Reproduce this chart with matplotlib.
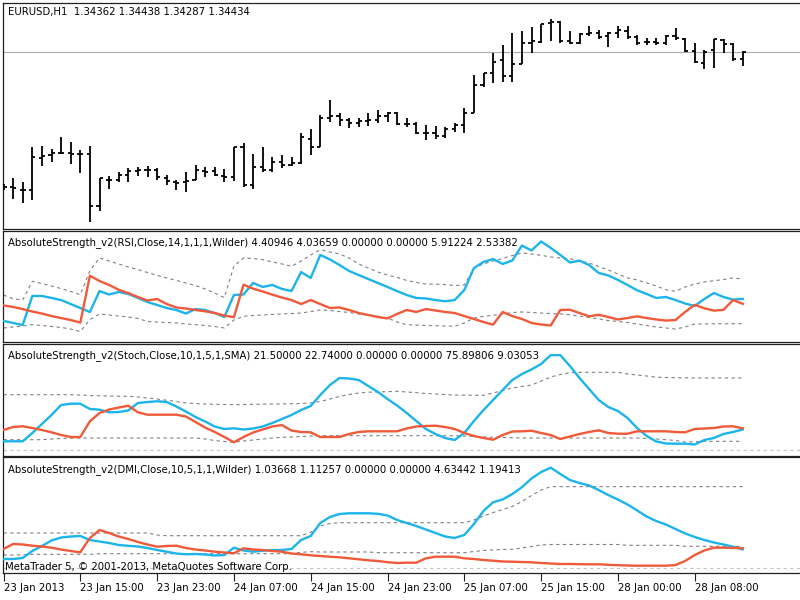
import matplotlib
matplotlib.use('Agg')
import matplotlib.pyplot as plt
import numpy as np

plt.rcParams['font.family'] = ['DejaVu Sans']

# ---------------- data ----------------
SYMBOL = "EURUSD,H1"
TIME_LABELS = ["23 Jan 2013", "23 Jan 15:00", "23 Jan 23:00", "24 Jan 07:00", "24 Jan 15:00",
               "24 Jan 23:00", "25 Jan 07:00", "25 Jan 15:00", "28 Jan 00:00", "28 Jan 08:00"]
TIME_LABEL_BARS = [0, 8, 16, 24, 32, 40, 48, 56, 64, 72]

OPEN = [1.3308, 1.3308, 1.3305, 1.3305, 1.3337, 1.3340, 1.3342, 1.3342, 1.3341, 1.3341,
        1.3289, 1.3315, 1.3315, 1.3320, 1.3324, 1.3325, 1.3325, 1.3317, 1.3313, 1.3313,
        1.3315, 1.3324, 1.3324, 1.3319, 1.3318, 1.3348, 1.3310, 1.3328, 1.3325, 1.3333,
        1.3330, 1.3332, 1.3356, 1.3348, 1.3377, 1.3379, 1.3375, 1.3372, 1.3374, 1.3375,
        1.3379, 1.3382, 1.3371, 1.3371, 1.3362, 1.3362, 1.3359, 1.3366, 1.3370, 1.3382,
        1.3410, 1.3422, 1.3435, 1.3419, 1.3431, 1.3452, 1.3453, 1.3472, 1.3473, 1.3454,
        1.3452, 1.3461, 1.3462, 1.3459, 1.3462, 1.3464, 1.3458, 1.3453, 1.3453, 1.3452,
        1.3459, 1.3456, 1.3444, 1.3432, 1.3445, 1.3455, 1.3451, 1.34362]
HIGH = [1.3311, 1.3317, 1.3313, 1.3348, 1.3349, 1.3346, 1.3358, 1.3353, 1.3345, 1.3349,
        1.3317, 1.3319, 1.3323, 1.3327, 1.3328, 1.3329, 1.3327, 1.3320, 1.3315, 1.3323,
        1.3330, 1.3328, 1.3328, 1.3326, 1.3348, 1.3352, 1.3341, 1.3348, 1.3338, 1.3340,
        1.3338, 1.3362, 1.3366, 1.3380, 1.3395, 1.3382, 1.3377, 1.3377, 1.3382, 1.3385,
        1.3383, 1.3383, 1.3377, 1.3373, 1.3370, 1.3369, 1.3368, 1.3372, 1.3387, 1.3420,
        1.3422, 1.3442, 1.3450, 1.3462, 1.3464, 1.3468, 1.3471, 1.3476, 1.3474, 1.3464,
        1.3462, 1.3469, 1.3465, 1.3463, 1.3469, 1.3469, 1.3460, 1.3457, 1.3457, 1.3460,
        1.3467, 1.3457, 1.3452, 1.3445, 1.3456, 1.3456, 1.3452, 1.34438]
LOW = [1.3305, 1.3296, 1.3292, 1.3295, 1.3329, 1.3333, 1.3341, 1.3331, 1.3322, 1.3273,
       1.3284, 1.3306, 1.3313, 1.3313, 1.3319, 1.3318, 1.3315, 1.3310, 1.3305, 1.3303,
       1.3315, 1.3318, 1.3319, 1.3313, 1.3314, 1.3308, 1.3306, 1.3323, 1.3323, 1.3327,
       1.3329, 1.3331, 1.3340, 1.3348, 1.3373, 1.3369, 1.3367, 1.3368, 1.3369, 1.3372,
       1.3373, 1.3370, 1.3368, 1.3361, 1.3355, 1.3356, 1.3357, 1.3363, 1.3362, 1.3382,
       1.3408, 1.3412, 1.3413, 1.3413, 1.3431, 1.3442, 1.3452, 1.3454, 1.3452, 1.3451,
       1.3451, 1.3459, 1.3456, 1.3448, 1.3457, 1.3456, 1.3450, 1.3450, 1.3450, 1.3450,
       1.3455, 1.3443, 1.3432, 1.3426, 1.3427, 1.3442, 1.3434, 1.34287]
CLOSE = [1.3308, 1.3307, 1.3305, 1.3338, 1.3339, 1.3342, 1.3342, 1.3341, 1.3341, 1.3289,
         1.3317, 1.3315, 1.3320, 1.3324, 1.3325, 1.3325, 1.3318, 1.3314, 1.3312, 1.3314,
         1.3325, 1.3323, 1.3320, 1.3318, 1.3348, 1.3310, 1.3328, 1.3325, 1.3333, 1.3330,
         1.3332, 1.3358, 1.3348, 1.3377, 1.3379, 1.3375, 1.3372, 1.3374, 1.3375, 1.3379,
         1.3382, 1.3371, 1.3371, 1.3362, 1.3362, 1.3359, 1.3366, 1.3370, 1.3382, 1.3410,
         1.3422, 1.3433, 1.3419, 1.3431, 1.3452, 1.3454, 1.3471, 1.3473, 1.3454, 1.3452,
         1.3461, 1.3462, 1.3458, 1.3462, 1.3465, 1.3458, 1.3452, 1.3453, 1.3452, 1.3459,
         1.3457, 1.3444, 1.3433, 1.3443, 1.3456, 1.3451, 1.3436, 1.34434]

# AbsoluteStrength_v2 (RSI)
RSI_BULLS = [2.74, 2.59, 2.43, 4.63, 4.63, 4.48, 4.32, 4.02, 3.72, 3.42,
             5.00, 4.74, 4.93, 4.78, 4.48, 4.17, 3.95, 3.72, 3.57, 3.30,
             3.64, 3.57, 3.34, 3.04, 4.70, 4.74, 5.61, 5.31, 5.46, 5.16,
             5.00, 6.44, 5.99, 7.73, 7.39, 6.97, 6.52, 6.21, 5.91, 5.61,
             5.31, 5.00, 4.70, 4.48, 4.44, 4.32, 4.23, 4.32, 5.08, 6.74,
             7.20, 7.42, 7.05, 7.31, 8.44, 8.07, 8.75, 8.26, 7.73, 7.16,
             7.30, 6.97, 6.37, 6.18, 5.84, 5.46, 5.06, 4.78, 4.48, 4.55,
             4.32, 4.06, 3.87, 4.40, 4.85, 4.55, 4.35, 4.40946]
RSI_BEARS = [3.91, 3.80, 3.64, 3.45, 3.30, 3.11, 2.96, 2.81, 2.62, 6.16,
             5.76, 5.46, 5.10, 4.85, 4.55, 4.29, 4.40, 4.02, 3.76, 3.68,
             3.57, 3.47, 3.34, 3.15, 3.02, 5.48, 5.18, 4.97, 4.73, 4.51,
             4.32, 4.02, 4.32, 4.02, 3.72, 3.76, 3.57, 3.34, 3.19, 3.04,
             2.93, 3.27, 3.57, 3.42, 3.64, 3.53, 3.42, 3.34, 3.11, 2.89,
             2.66, 2.46, 3.42, 3.11, 2.89, 2.59, 2.47, 2.40, 3.57, 3.59,
             3.34, 3.09, 3.21, 3.04, 2.85, 2.96, 3.09, 2.96, 2.85, 2.77,
             2.81, 3.42, 3.96, 3.70, 3.52, 3.58, 4.32, 4.03659]
RSI_UPPER = [4.70, 4.42, 4.32, 5.74, 5.57, 5.38, 5.19, 4.97, 4.73, 6.54,
             7.50, 7.27, 7.05, 6.82, 6.63, 6.40, 6.18, 5.99, 5.80, 5.61,
             5.42, 5.16, 4.85, 4.51, 6.89, 7.50, 7.46, 7.37, 7.20, 7.05,
             6.87, 7.27, 7.73, 8.13, 7.95, 7.80, 7.50, 7.05, 6.74, 6.44,
             6.21, 6.03, 5.80, 5.65, 5.53, 5.52, 5.49, 5.42, 5.46, 6.74,
             7.05, 7.27, 7.46, 7.69, 7.88, 7.80, 7.70, 7.58, 7.50, 7.45,
             7.27, 7.12, 6.86, 6.59, 6.29, 5.99, 5.84, 5.61, 5.38, 5.10,
             4.98, 5.31, 5.53, 5.69, 5.78, 5.87, 5.99, 5.91224]
RSI_LOWER = [2.21, 2.28, 2.36, 2.46, 2.40, 2.32, 2.25, 2.13, 1.94, 2.84,
             3.27, 3.19, 3.11, 3.04, 2.93, 2.70, 2.66, 2.62, 2.59, 2.51,
             2.46, 2.40, 2.32, 2.21, 2.81, 3.09, 3.15, 3.19, 3.23, 3.27,
             3.30, 3.34, 3.45, 3.57, 3.53, 3.45, 3.38, 3.27, 3.19, 3.09,
             2.96, 2.66, 2.46, 2.43, 2.40, 2.38, 2.36, 2.34, 2.59, 2.96,
             3.08, 3.17, 3.27, 3.38, 3.42, 3.38, 3.34, 3.30, 3.27, 3.21,
             3.11, 3.00, 2.89, 2.77, 2.71, 2.62, 2.51, 2.40, 2.28, 2.21,
             2.13, 2.28, 2.51, 2.51, 2.53, 2.53, 2.53, 2.53382]

# AbsoluteStrength_v2 (Stoch)
STO_BULLS = [9.03, 9.03, 9.03, 17.79, 27.30, 36.80, 47.36, 48.73, 48.73, 43.14,
             42.40, 39.65, 39.97, 41.55, 49.47, 50.53, 51.27, 50.53, 45.78, 40.50,
             34.69, 29.94, 24.66, 22.02, 22.76, 21.49, 22.55, 24.66, 28.35, 32.58,
             36.80, 42.08, 46.31, 57.92, 68.48, 75.87, 75.35, 73.76, 67.43, 61.09,
             53.70, 46.83, 38.91, 30.47, 22.02, 16.74, 12.51, 10.40, 17.79, 30.47,
             42.00, 52.64, 63.20, 73.76, 80.00, 84.90, 90.66, 100.0, 100.0, 88.55,
             75.87, 64.26, 52.64, 45.25, 41.03, 33.63, 23.07, 14.63, 8.82, 6.71,
             6.49, 6.49, 5.65, 10.40, 12.51, 16.74, 18.85, 21.50]
STO_BEARS = [20.96, 24.13, 24.87, 23.07, 20.96, 18.53, 15.68, 13.57, 13.57, 30.15,
             38.90, 42.60, 44.70, 46.60, 39.65, 37.12, 37.12, 37.12, 37.12, 35.20,
             29.40, 23.60, 18.90, 13.60, 7.97, 13.57, 18.30, 21.50, 24.66, 26.20,
             20.40, 18.85, 18.50, 13.57, 13.57, 13.57, 16.74, 18.85, 19.59, 19.59,
             19.59, 19.59, 22.55, 24.66, 25.19, 25.50, 24.13, 22.02, 17.79, 14.63,
             12.51, 10.72, 15.68, 19.38, 19.59, 20.22, 17.79, 15.68, 11.46, 14.10,
             16.74, 18.85, 20.64, 17.79, 17.05, 17.05, 19.59, 19.59, 19.59, 19.59,
             18.85, 18.53, 22.02, 22.55, 23.07, 24.66, 24.87, 22.74]
STO_UPPER = [58.24, 58.24, 58.24, 58.24, 58.24, 58.24, 58.24, 58.24, 57.92, 57.39,
             57.08, 56.87, 56.65, 56.55, 55.81, 54.75, 53.70, 52.32, 51.06, 49.47,
             48.95, 48.42, 48.10, 47.89, 47.68, 47.89, 48.10, 48.21, 48.42, 48.52,
             48.73, 48.95, 49.47, 51.06, 53.70, 56.34, 58.45, 60.03, 60.88, 61.09,
             61.51, 61.83, 61.09, 60.35, 59.51, 58.98, 58.34, 57.92, 57.71, 57.60,
             57.60, 60.03, 62.67, 65.31, 66.90, 68.48, 72.71, 76.93, 79.57, 81.47,
             81.89, 81.89, 81.89, 81.89, 81.89, 80.10, 79.04, 77.99, 76.72, 76.40,
             76.19, 76.08, 75.90, 75.90, 75.90, 75.90, 75.90, 75.89806]
STO_LOWER = [10.72, 10.72, 10.72, 10.72, 10.72, 11.46, 11.99, 12.30, 12.51, 12.51,
             12.51, 12.51, 12.51, 12.51, 12.51, 12.51, 12.51, 12.51, 12.51, 12.51,
             12.51, 11.46, 9.87, 8.82, 7.97, 9.35, 10.40, 11.46, 12.51, 13.25,
             13.57, 14.10, 14.63, 14.94, 14.94, 14.94, 14.94, 14.94, 14.94, 14.94,
             14.94, 14.94, 14.94, 14.94, 14.94, 14.94, 14.94, 14.94, 14.63, 14.10,
             13.57, 13.25, 13.04, 12.78, 12.51, 12.51, 12.51, 12.51, 12.51, 12.51,
             12.51, 12.51, 12.51, 12.51, 12.51, 12.51, 12.51, 11.99, 11.46, 10.72,
             9.87, 8.29, 8.50, 9.03, 9.03, 9.03, 9.03, 9.03053]

# AbsoluteStrength_v2 (DMI)
DMI_BULLS = [0.487, 0.487, 0.544, 0.945, 1.232, 1.547, 1.719, 1.776, 1.805, 1.576,
             1.490, 1.404, 1.289, 1.243, 1.203, 1.117, 1.003, 0.905, 0.802, 0.756,
             0.774, 0.745, 0.688, 0.716, 1.135, 0.974, 0.905, 0.963, 1.003, 1.003,
             1.060, 1.576, 1.805, 2.550, 2.894, 3.066, 3.106, 3.106, 3.106, 3.077,
             2.980, 2.722, 2.550, 2.378, 2.177, 1.977, 1.776, 1.690, 1.862, 2.490,
             3.240, 3.740, 3.900, 4.210, 4.600, 5.100, 5.470, 5.719, 5.360, 5.014,
             4.840, 4.699, 4.440, 4.150, 3.896, 3.610, 3.270, 2.920, 2.660, 2.464,
             2.206, 1.950, 1.748, 1.576, 1.433, 1.318, 1.192, 1.03668]
DMI_BEARS = [1.060, 1.347, 1.318, 1.249, 1.203, 1.135, 1.031, 0.945, 0.871, 1.690,
             2.149, 1.977, 1.776, 1.633, 1.461, 1.318, 1.192, 1.232, 1.249, 1.117,
             1.031, 0.974, 0.905, 0.860, 0.814, 1.100, 1.031, 1.003, 0.945, 0.905,
             0.802, 0.756, 0.699, 0.659, 0.619, 0.584, 0.527, 0.470, 0.413, 0.372,
             0.304, 0.258, 0.275, 0.275, 0.527, 0.619, 0.619, 0.619, 0.527, 0.487,
             0.430, 0.390, 0.344, 0.332, 0.315, 0.298, 0.258, 0.229, 0.201, 0.201,
             0.189, 0.183, 0.183, 0.155, 0.132, 0.115, 0.103, 0.103, 0.103, 0.103,
             0.143, 0.372, 0.716, 0.974, 1.135, 1.135, 1.117, 1.11257]
DMI_UPPER = [1.977, 1.977, 1.977, 1.977, 1.977, 1.977, 1.977, 1.977, 1.977, 1.977,
             1.977, 1.977, 1.977, 1.977, 1.977, 1.977, 1.862, 1.822, 1.822, 1.822,
             1.822, 1.822, 1.822, 1.822, 1.822, 1.822, 1.822, 1.822, 1.822, 1.822,
             1.822, 1.822, 2.017, 2.378, 2.520, 2.567, 2.567, 2.567, 2.567, 2.567,
             2.567, 2.567, 2.567, 2.567, 2.567, 2.567, 2.567, 2.567, 2.567, 2.722,
             2.951, 3.150, 3.320, 3.500, 3.780, 4.126, 4.440, 4.634, 4.634, 4.634,
             4.634, 4.634, 4.634, 4.634, 4.634, 4.634, 4.634, 4.634, 4.634, 4.634,
             4.634, 4.634, 4.634, 4.634, 4.634, 4.634, 4.634, 4.63442]
DMI_LOWER = [0.716, 0.716, 0.716, 0.756, 0.756, 0.756, 0.756, 0.756, 0.756, 0.756,
             0.791, 0.791, 0.791, 0.791, 0.791, 0.791, 0.791, 0.791, 0.791, 0.791,
             0.791, 0.791, 0.791, 0.791, 0.791, 0.791, 0.791, 0.791, 0.791, 0.791,
             0.791, 0.871, 0.905, 0.888, 0.888, 0.888, 0.888, 0.888, 0.888, 0.848,
             0.848, 0.848, 0.848, 0.848, 0.848, 0.848, 0.848, 0.848, 0.848, 0.917,
             0.974, 1.003, 1.031, 1.043, 1.117, 1.203, 1.289, 1.318, 1.318, 1.318,
             1.318, 1.318, 1.318, 1.318, 1.318, 1.272, 1.272, 1.272, 1.272, 1.272,
             1.272, 1.215, 1.215, 1.215, 1.215, 1.215, 1.215, 1.19413]

RSI_TITLE = "AbsoluteStrength_v2(RSI,Close,14,1,1,1,Wilder)"
STO_TITLE = "AbsoluteStrength_v2(Stoch,Close,10,1,5,1,SMA)"
DMI_TITLE = "AbsoluteStrength_v2(DMI,Close,10,5,1,1,Wilder)"
COPYRIGHT = "MetaTrader 5, \u00a9 2001-2013, MetaQuotes Software Corp."

# ---------------- layout / style ----------------
W, H = 800, 600
BLUE = '#1cb4ea'
RED = '#f05a3a'
DASH_GREY = '#808080'
LIGHT_GREY = '#c4c4c4'
FS = 7.3

fig = plt.figure(figsize=(W / 100, H / 100), dpi=100, facecolor='white')

X0_PX, STEP_PX = 3.5, 9.6
LEFT_PX = 3.0


def panel(top_px, bottom_px):
    ax = fig.add_axes([LEFT_PX / W, 1 - bottom_px / H, (W - LEFT_PX) / W, (bottom_px - top_px) / H])
    ax.set_xlim((LEFT_PX - X0_PX) / STEP_PX, (W - X0_PX) / STEP_PX)
    for side in ('left', 'top', 'bottom'):
        ax.spines[side].set_color('#202020')
        ax.spines[side].set_linewidth(0.9)
    ax.spines['right'].set_visible(False)
    ax.set_yticks([])
    ax.set_xticks([])
    ax.set_facecolor('white')
    return ax


def fmt(vals):
    return " ".join(f"{v:.5f}" for v in vals)


n = len(CLOSE)
x = np.arange(n)

# main price panel
ax0 = panel(2.7, 228.5)
ax0.set_ylim(1.3495 - 228.5 / 10000, 1.3495 - 2.7 / 10000)
ax0.axhline(CLOSE[-1], color='#ababab', lw=0.8, zorder=1)
ax0.vlines(x, LOW, HIGH, color='black', lw=1.3, zorder=3)
ax0.hlines(OPEN, x - 0.33, x, color='black', lw=1.3, zorder=3)
ax0.hlines(CLOSE, x, x + 0.33, color='black', lw=1.3, zorder=3)
fig.text(8 / W, 1 - 12.5 / H,
         f"{SYMBOL}  {fmt([OPEN[-1], HIGH[-1], LOW[-1], CLOSE[-1]])}",
         fontsize=FS, va='center', ha='left')


def indicator(top_px, bottom_px, ylim, bulls, bears, upper, lower, title, zero_line):
    ax = panel(top_px, bottom_px)
    ax.set_ylim(*ylim)
    if zero_line:
        ax.axhline(0, color=LIGHT_GREY, lw=0.8, ls=(0, (3, 3)), zorder=1)
    ax.plot(x, upper, color=DASH_GREY, lw=0.8, ls=(0, (3, 3)), zorder=2)
    ax.plot(x, lower, color=DASH_GREY, lw=0.8, ls=(0, (3, 3)), zorder=2)
    ax.plot(x, bulls, color=BLUE, lw=1.7, zorder=3, solid_joinstyle='round')
    ax.plot(x, bears, color=RED, lw=1.7, zorder=4, solid_joinstyle='round')
    ymid = (top_px + 12.5)
    fig.text(8 / W, 1 - ymid / H,
             f"{title} {fmt([bulls[-1], bears[-1], 0.0, 0.0, upper[-1], lower[-1]])}",
             fontsize=FS, va='center', ha='left')
    return ax


indicator(230.5, 341.5, ((357.2 - 341.5) * 0.0756, (357.2 - 230.5) * 0.0756),
          RSI_BULLS, RSI_BEARS, RSI_UPPER, RSI_LOWER, RSI_TITLE, False)
indicator(343.5, 455.7, ((449.85 - 455.7) * 1.056, (449.85 - 343.5) * 1.056),
          STO_BULLS, STO_BEARS, STO_UPPER, STO_LOWER, STO_TITLE, True)
ax3 = indicator(456.7, 573.3, ((567.5 - 573.3) * 0.0573, (567.5 - 456.7) * 0.0573),
                DMI_BULLS, DMI_BEARS, DMI_UPPER, DMI_LOWER, DMI_TITLE, True)

fig.text(5 / W, 1 - 567.5 / H, COPYRIGHT, fontsize=FS, va='center', ha='left')

ax3.set_xticks(TIME_LABEL_BARS)
ax3.set_xticklabels(TIME_LABELS, ha='left', fontsize=FS)
ax3.tick_params(axis='x', direction='out', length=5.5, width=0.8, pad=1.5, color='#202020')

fig.savefig('out.png', dpi=100, facecolor='white')
